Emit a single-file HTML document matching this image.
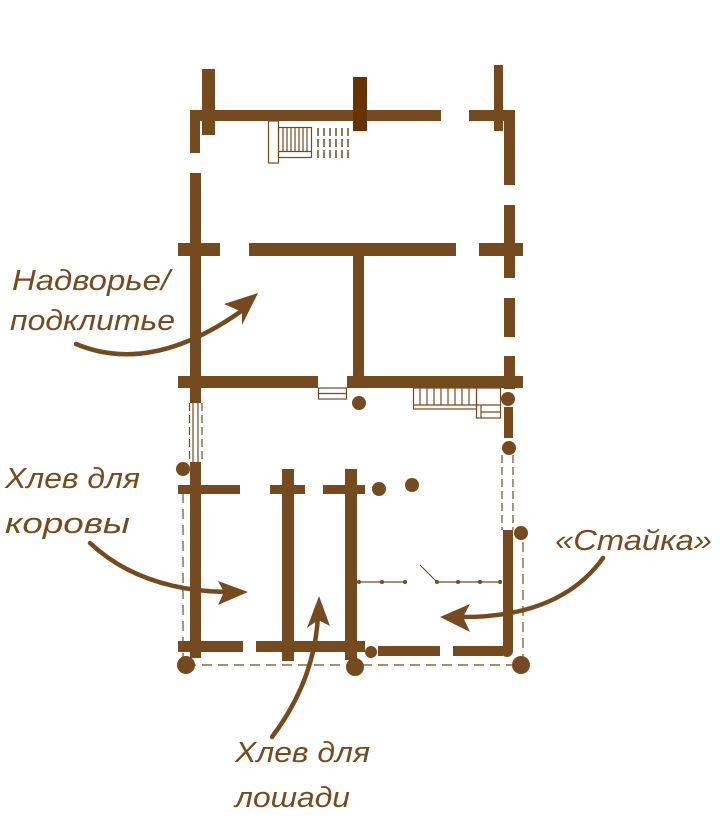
<!DOCTYPE html>
<html><head><meta charset="utf-8"><style>
html,body{margin:0;padding:0;background:#fff;}
svg{display:block}
text{font-family:"Liberation Sans",sans-serif;font-style:italic;fill:#764a1f;font-size:29px;}
</style></head><body>
<svg width="720" height="823" viewBox="0 0 720 823" xmlns="http://www.w3.org/2000/svg">
<g fill="#764a1f">
<rect x="190" y="110" width="251" height="11"/>
<rect x="469" y="110" width="46" height="11"/>
<rect x="202" y="69" width="13" height="66"/>
<rect x="494" y="65" width="9" height="66"/>
<rect x="353" y="77" width="14" height="54" fill="#663300"/>
<rect x="190" y="110" width="10" height="43"/>
<rect x="190" y="173" width="11" height="230"/>
<rect x="190" y="462" width="11" height="196"/>
<rect x="504" y="110" width="11" height="75"/>
<rect x="504" y="205" width="11" height="73"/>
<rect x="504" y="298" width="11" height="39"/>
<rect x="504" y="356" width="11" height="33"/>
<rect x="178" y="243" width="42" height="13"/>
<rect x="249" y="243" width="207" height="13"/>
<rect x="479" y="243" width="44" height="13"/>
<rect x="353" y="256" width="11" height="120"/>
<rect x="178" y="376" width="140" height="12"/>
<rect x="347" y="376" width="176" height="12"/>
<circle cx="359" cy="403" r="7"/>
<circle cx="508" cy="399" r="7"/>
<rect x="504" y="407" width="9" height="31"/>
<circle cx="509" cy="448" r="7"/>
<rect x="503" y="530" width="10" height="122"/>
<circle cx="521" cy="533" r="7"/>
<circle cx="183" cy="469" r="7"/>
<rect x="178" y="485" width="62" height="9"/>
<rect x="270" y="485" width="35" height="9"/>
<rect x="323" y="485" width="42" height="9"/>
<rect x="282" y="469" width="12" height="192"/>
<rect x="345" y="469" width="12" height="191"/>
<circle cx="379" cy="489" r="7"/>
<circle cx="412" cy="485" r="7"/>
<rect x="178" y="641" width="65" height="11"/>
<rect x="256" y="641" width="109" height="11"/>
<circle cx="371" cy="652" r="6"/>
<rect x="378" y="646" width="62" height="10"/>
<rect x="453" y="646" width="50" height="10"/>
<circle cx="507" cy="651" r="6"/>
<circle cx="186" cy="665" r="9"/>
<circle cx="355" cy="667" r="9"/>
<circle cx="521" cy="665" r="9"/>
<circle cx="359" cy="582" r="2"/><circle cx="382" cy="582" r="2"/><circle cx="405" cy="582" r="2"/>
<circle cx="437" cy="582" r="2"/><circle cx="458" cy="582" r="2"/><circle cx="480" cy="582" r="2"/><circle cx="500" cy="582" r="2"/>
</g>
<g stroke="#764a1f" fill="none" stroke-width="1.2">
<rect x="268.5" y="121" width="10" height="42"/>
<rect x="278.5" y="127.5" width="33" height="30"/>
<line x1="278" y1="151.5" x2="311" y2="151.5"/>
<path d="M283 128v23M287 128v23M291 128v23M295 128v23M299 128v23M303 128v23M307 128v23"/>
<path d="M318 128v8M318 139v8M318 150v8M324 128v8M324 139v8M324 150v8M330 128v8M330 139v8M330 150v8M336 128v8M336 139v8M336 150v8M342 128v8M342 139v8M342 150v8M348 128v8M348 139v8M348 150v8" stroke-width="1.5"/>
<rect x="318.5" y="388" width="28" height="11"/>
<line x1="318" y1="393.5" x2="346" y2="393.5"/>
<rect x="413.5" y="388" width="63" height="21"/>
<line x1="413" y1="405" x2="476" y2="405"/>
<path d="M420 388v17M427 388v17M434 388v17M441 388v17M448 388v17M455 388v17M462 388v17M469 388v17"/>
<rect x="476.5" y="388" width="24" height="30"/>
<line x1="476" y1="405" x2="500" y2="405"/><line x1="481" y1="405" x2="481" y2="418"/><line x1="481" y1="412" x2="500" y2="412"/>
<line x1="189.5" y1="403" x2="189.5" y2="462" stroke-dasharray="8,4"/>
<line x1="202" y1="403" x2="202" y2="462" stroke-dasharray="8,4"/>
<line x1="193" y1="403" x2="193" y2="462"/><line x1="198" y1="403" x2="198" y2="462"/>
<line x1="502" y1="455" x2="502" y2="530" stroke-dasharray="8,4"/>
<line x1="513" y1="455" x2="513" y2="530" stroke-dasharray="8,4"/>
<line x1="186" y1="665" x2="521" y2="665" stroke-dasharray="10,6"/>
<line x1="183" y1="493" x2="183" y2="660" stroke-dasharray="10,6"/>
<line x1="523" y1="542" x2="523" y2="660" stroke-dasharray="10,6"/>
<line x1="359" y1="582" x2="405" y2="582"/>
<line x1="437" y1="582" x2="500" y2="582"/>
<line x1="420" y1="565" x2="437" y2="582"/>
</g>
<g stroke="#764a1f" stroke-width="4.5" fill="none" stroke-linecap="round">
<path d="M76 344 Q150 375 240 312"/>
<path d="M90 543 Q140 590 225 592"/>
<path d="M272 737 Q315 680 318 615"/>
<path d="M603 558 Q560 618 460 617"/>
</g>
<g fill="#764a1f">
<polygon points="258,293 224,304 242,312 242,325"/>
<polygon points="248,592 218,581 224,592 218,605"/>
<polygon points="319,596 307,628 318,620 330,626"/>
<polygon points="440,617 470,604 463,617 470,632"/>
</g>
<text x="12" y="290" textLength="158" lengthAdjust="spacingAndGlyphs">Надворье/</text>
<text x="10" y="330" textLength="165" lengthAdjust="spacingAndGlyphs">подклитье</text>
<text x="5" y="488" textLength="135" lengthAdjust="spacingAndGlyphs">Хлев для</text>
<text x="5" y="533" textLength="125" lengthAdjust="spacingAndGlyphs">коровы</text>
<text x="555" y="550" textLength="157" lengthAdjust="spacingAndGlyphs">«Стайка»</text>
<text x="235" y="762" textLength="135" lengthAdjust="spacingAndGlyphs">Хлев для</text>
<text x="235" y="807" textLength="115" lengthAdjust="spacingAndGlyphs">лошади</text>
</svg>
</body></html>
